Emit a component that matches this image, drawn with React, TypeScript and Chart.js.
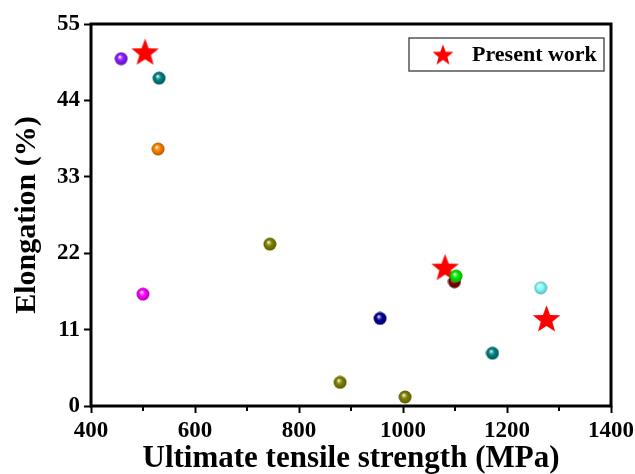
import React, { useEffect, useRef } from 'react';
import { Chart, registerables } from 'chart.js';

Chart.register(...registerables);

// ---- data ----
const refUTS = [458, 531, 529, 744, 500, 956, 1099, 1102, 1265, 1172, 879, 1004];
const refElong = [50.0, 47.2, 37.0, 23.3, 16.1, 12.6, 17.9, 18.7, 17.0, 7.6, 3.4, 1.3];
const refColors = ['#8a1cff', '#008080', '#ff8000', '#808000', '#ff00ff', '#000099', '#800000', '#00ee00', '#80ffff', '#008080', '#808000', '#808000'];
const presentUTS = [504, 1081, 1276];
const presentElong = [51.0, 20.0, 12.6];
const xTicks = [400, 600, 800, 1000, 1200, 1400];
const xMinorTicks = [500, 700, 900, 1100, 1300];
const yTicks = [0, 11, 22, 33, 44, 55];
const xTitle = 'Ultimate tensile strength (MPa)';
const yTitle = 'Elongation (%)';
const legendLabel = 'Present work';

const SERIF = "'Liberation Serif', 'Times New Roman', serif";

function hexToRgb(hex: string) {
  const h = hex.replace('#', '');
  return [parseInt(h.slice(0, 2), 16), parseInt(h.slice(2, 4), 16), parseInt(h.slice(4, 6), 16)];
}
function mix(hex: string, target: number, f: number) {
  const [r, g, b] = hexToRgb(hex);
  const m = (c: number) => Math.round(c + (target - c) * f);
  return `rgb(${m(r)},${m(g)},${m(b)})`;
}

function makeSphere(color: string, d = 13) {
  const c = document.createElement('canvas');
  c.width = d + 1;
  c.height = d + 1;
  const ctx = c.getContext('2d')!;
  const cx = c.width / 2, cy = c.height / 2, r = d / 2;
  const g = ctx.createRadialGradient(cx - 1.5, cy - 2, 0.3, cx, cy, r);
  g.addColorStop(0, '#ffffff');
  g.addColorStop(0.22, mix(color, 255, 0.35));
  g.addColorStop(0.45, color);
  g.addColorStop(1, mix(color, 0, 0.3));
  ctx.fillStyle = g;
  ctx.beginPath();
  ctx.arc(cx, cy, r, 0, Math.PI * 2);
  ctx.fill();
  return c;
}

function makeStar(R: number, ratio: number, color: string) {
  const size = Math.ceil(2 * R + 2);
  const c = document.createElement('canvas');
  c.width = size;
  c.height = size;
  const ctx = c.getContext('2d')!;
  const cx = size / 2, cy = size / 2 + R * 0.09;
  ctx.fillStyle = color;
  ctx.beginPath();
  for (let i = 0; i < 10; i++) {
    const rad = i % 2 === 0 ? R : R * ratio;
    const a = -Math.PI / 2 + (i * Math.PI) / 5;
    const x = cx + rad * Math.cos(a);
    const y = cy + rad * Math.sin(a);
    if (i === 0) ctx.moveTo(x, y);
    else ctx.lineTo(x, y);
  }
  ctx.closePath();
  ctx.fill();
  return c;
}

export default function App() {
  const ref = useRef<HTMLCanvasElement | null>(null);

  useEffect(() => {
    if (!ref.current) return;
    const spheres = refColors.map((c) => makeSphere(c));
    const bigStar = makeStar(14.5, 0.42, '#ff0000');
    const legendStar = makeStar(11, 0.42, '#ff0000');

    const framePlugin = {
      id: 'frame',
      beforeDatasetsDraw(chart: any) {
        const { ctx, chartArea } = chart;
        const xs = chart.scales.x;
        ctx.save();
        ctx.strokeStyle = '#000';
        ctx.lineWidth = 2;
        for (const v of xMinorTicks) {
          const px = Math.round(xs.getPixelForValue(v));
          ctx.beginPath();
          ctx.moveTo(px, chartArea.bottom);
          ctx.lineTo(px, chartArea.bottom + 5);
          ctx.stroke();
        }
        ctx.lineWidth = 3;
        ctx.strokeRect(chartArea.left, chartArea.top, chartArea.right - chartArea.left, chartArea.bottom - chartArea.top);
        ctx.restore();
      },
      afterDraw(chart: any) {
        const { ctx, chartArea } = chart;
        const w = 195, h = 33;
        const left = chartArea.right - 7 - w, top = chartArea.top + 14;
        ctx.save();
        ctx.strokeStyle = '#555';
        ctx.lineWidth = 1.5;
        ctx.strokeRect(left, top, w, h);
        ctx.drawImage(legendStar, left + 34 - legendStar.width / 2, top + h / 2 - legendStar.height / 2);
        ctx.font = `bold 22px ${SERIF}`;
        ctx.fillStyle = '#000';
        ctx.textBaseline = 'middle';
        ctx.textAlign = 'left';
        ctx.fillText(legendLabel, left + 63, top + h / 2 + 1);
        ctx.restore();
      },
    };

    const chart = new Chart(ref.current, {
      type: 'scatter',
      data: {
        datasets: [
          {
            label: 'Literature',
            data: refUTS.map((x, i) => ({ x, y: refElong[i] })),
            pointStyle: spheres as any,
            pointRadius: 7,
            pointHoverRadius: 7,
          },
          {
            label: legendLabel,
            data: presentUTS.map((x, i) => ({ x, y: presentElong[i] })),
            pointStyle: bigStar as any,
            pointRadius: 15,
            pointHoverRadius: 15,
          },
        ],
      },
      options: {
        responsive: false,
        animation: false,
        devicePixelRatio: 1,
        layout: { padding: { left: 0, right: 24, top: 24, bottom: 0 } },
        plugins: { legend: { display: false }, tooltip: { enabled: false } },
        scales: {
          x: {
            type: 'linear',
            min: 400,
            max: 1400,
            afterBuildTicks: (s: any) => {
              s.ticks = xTicks.map((v) => ({ value: v }));
            },
            afterFit: (s: any) => {
              s.height = 68;
              s.paddingLeft = 0;
              s.paddingRight = 0;
            },
            grid: { display: true, drawOnChartArea: false, drawTicks: true, tickLength: 7, tickWidth: 2, tickColor: '#000' },
            border: { display: false },
            ticks: {
              color: '#000',
              padding: 4,
              maxRotation: 0,
              callback: (v: any) => String(v),
              font: { family: SERIF, size: 23, weight: 'bold' },
            },
            title: {
              display: true,
              text: xTitle,
              color: '#000',
              padding: { top: 0, bottom: 0 },
              font: { family: SERIF, size: 31, weight: 'bold', lineHeight: 1 },
            },
          },
          y: {
            type: 'linear',
            min: 0,
            max: 55,
            afterBuildTicks: (s: any) => {
              s.ticks = yTicks.map((v) => ({ value: v }));
            },
            afterFit: (s: any) => {
              s.width = 91;
              s.paddingTop = 0;
              s.paddingBottom = 0;
            },
            grid: { display: true, drawOnChartArea: false, drawTicks: true, tickLength: 7, tickWidth: 2, tickColor: '#000' },
            border: { display: false },
            ticks: {
              color: '#000',
              padding: 4,
              callback: (v: any) => String(v),
              font: { family: SERIF, size: 23, weight: 'bold' },
            },
            title: {
              display: true,
              text: yTitle,
              color: '#000',
              padding: { top: 12, bottom: 0 },
              font: { family: SERIF, size: 30, weight: 'bold', lineHeight: 1 },
            },
          },
        },
      },
      plugins: [framePlugin],
    });
    return () => chart.destroy();
  }, []);

  return (
    <div style={{ position: 'fixed', left: 0, top: 0, width: 635, height: 474, background: '#fff' }}>
      <canvas ref={ref} width={635} height={474} style={{ display: 'block' }} />
    </div>
  );
}
